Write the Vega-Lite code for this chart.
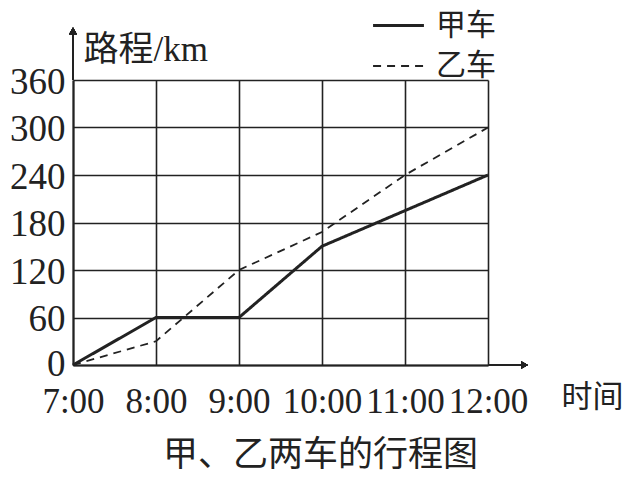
{
  "$schema": "https://vega.github.io/schema/vega-lite/v6.json",
  "width": 415,
  "height": 285,
  "autosize": "none",
  "padding": {"left": 73, "top": 80, "right": 145, "bottom": 112},
  "background": "white",
  "config": {
    "view": {"stroke": null},
    "font": "Liberation Serif, Noto Sans CJK SC"
  },
  "title": {
    "text": "甲、乙两车的行程图",
    "orient": "bottom",
    "anchor": "middle",
    "font": "Noto Sans CJK SC",
    "fontSize": 35,
    "fontWeight": "normal",
    "color": "#222",
    "offset": 19,
    "dx": 40
  },
  "data": {
    "values": [
      {"t": 7, "d": 0, "car": "甲车"},
      {"t": 8, "d": 60, "car": "甲车"},
      {"t": 9, "d": 60, "car": "甲车"},
      {"t": 10, "d": 150, "car": "甲车"},
      {"t": 11, "d": 195, "car": "甲车"},
      {"t": 12, "d": 240, "car": "甲车"},
      {"t": 7, "d": 0, "car": "乙车"},
      {"t": 8, "d": 30, "car": "乙车"},
      {"t": 9, "d": 120, "car": "乙车"},
      {"t": 10, "d": 168, "car": "乙车"},
      {"t": 11, "d": 240, "car": "乙车"},
      {"t": 12, "d": 300, "car": "乙车"}
    ]
  },
  "layer": [
    {
      "mark": {"type": "line", "color": "#222"},
      "encoding": {
        "x": {
          "field": "t", "type": "quantitative",
          "scale": {"domain": [7, 12], "nice": false, "zero": false},
          "axis": {
            "values": [7, 8, 9, 10, 11, 12],
            "labelExpr": "datum.value + ':00'",
            "grid": true, "gridColor": "#222", "gridWidth": 1.6, "gridOpacity": 1,
            "domain": true, "domainColor": "#222", "domainWidth": 2,
            "ticks": false,
            "labelFont": "Liberation Serif", "labelFontSize": 35, "labelColor": "#222",
            "labelPadding": 19, "labelFlush": false, "labelOverlap": false,
            "title": "时间", "titleFont": "Noto Sans CJK SC", "titleFontSize": 31,
            "titleFontWeight": "normal", "titleColor": "#222",
            "titleAlign": "left", "titleBaseline": "middle",
            "titleX": 488, "titleY": 32
          }
        },
        "y": {
          "field": "d", "type": "quantitative",
          "scale": {"domain": [0, 360], "nice": false},
          "axis": {
            "values": [0, 60, 120, 180, 240, 300, 360],
            "grid": true, "gridColor": "#222", "gridWidth": 1.6, "gridOpacity": 1,
            "domain": true, "domainColor": "#222", "domainWidth": 2,
            "ticks": false,
            "labelFont": "Liberation Serif", "labelFontSize": 37, "labelColor": "#222",
            "labelPadding": 8,
            "labelOffset": {"condition": {"test": "datum.value == 0", "value": -1}, "value": 2},
            "title": "路程/km", "titleFont": "Liberation Serif, Noto Sans CJK SC",
            "titleFontSize": 35, "titleFontWeight": "normal", "titleColor": "#222",
            "titleAngle": 0, "titleAlign": "left", "titleBaseline": "middle",
            "titleX": 10, "titleY": -31
          }
        },
        "strokeDash": {
          "field": "car", "type": "nominal",
          "scale": {"domain": ["甲车", "乙车"], "range": [[1, 0], [8, 6]]},
          "legend": {
            "title": null,
            "orient": "none", "legendX": 307, "legendY": -73,
            "symbolType": "M-1.5,0H1.5", "symbolSize": 1150, "symbolStrokeColor": "#222",
            "labelFont": "Noto Sans CJK SC", "labelFontSize": 30, "labelColor": "#222",
            "labelOffset": 19, "rowPadding": 7
          }
        },
        "strokeWidth": {
          "field": "car", "type": "nominal",
          "scale": {"domain": ["甲车", "乙车"], "range": [3, 1.8]},
          "legend": null
        }
      }
    },
    {
      "mark": {"type": "rule", "color": "#222", "strokeWidth": 2},
      "encoding": {"x": {"datum": 7}, "y": {"datum": 360}, "y2": {"datum": 420}}
    },
    {
      "mark": {"type": "point", "shape": "triangle-up", "filled": true, "color": "#222", "size": 60, "opacity": 1},
      "encoding": {"x": {"datum": 7}, "y": {"datum": 422}}
    },
    {
      "mark": {"type": "rule", "color": "#222", "strokeWidth": 2},
      "encoding": {"x": {"datum": 12}, "x2": {"datum": 12.42}, "y": {"datum": 0}}
    },
    {
      "mark": {"type": "point", "shape": "triangle-right", "filled": true, "color": "#222", "size": 60, "opacity": 1},
      "encoding": {"x": {"datum": 12.44}, "y": {"datum": 0}}
    }
  ]
}
